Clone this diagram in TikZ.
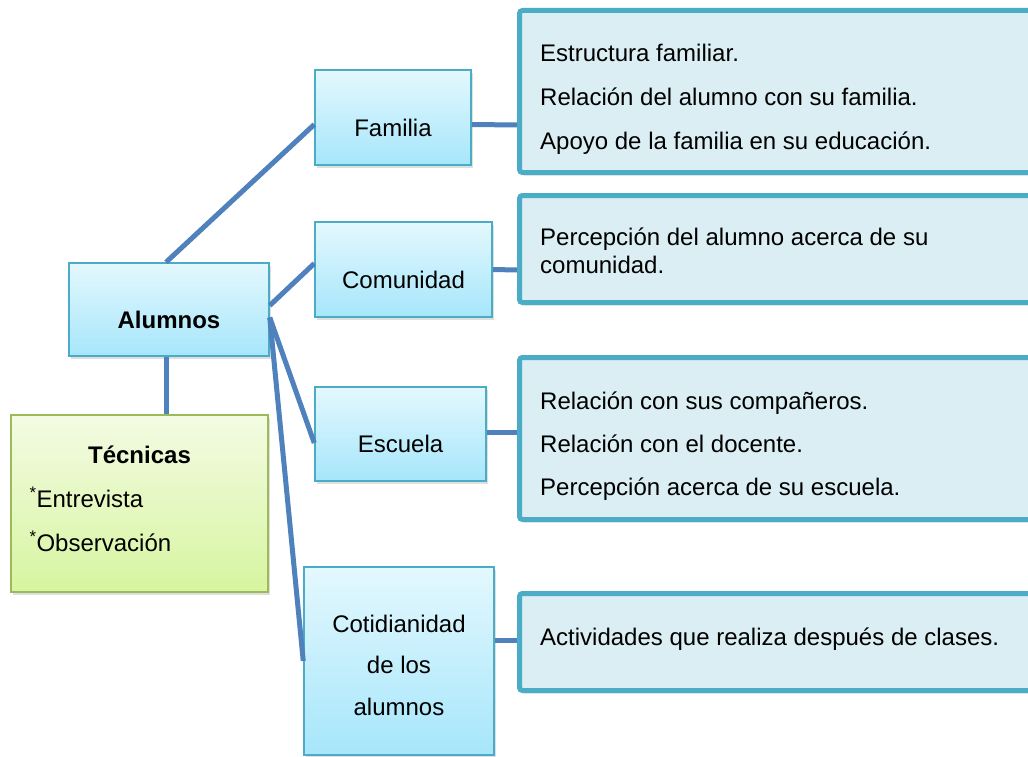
\documentclass[tikz,border=0pt]{standalone}
\usepackage{fontspec}
\setmainfont{Liberation Sans}
\usetikzlibrary{shadows}
\definecolor{cyanT}{HTML}{E4F8FE}
\definecolor{cyanB}{HTML}{A6E6FB}
\definecolor{cyanD}{HTML}{4BACC6}
\definecolor{greenT}{HTML}{F4FBE3}
\definecolor{greenB}{HTML}{D6F5A0}
\definecolor{greenD}{HTML}{9BBB59}
\definecolor{infoF}{HTML}{DAEEF3}
\definecolor{linkC}{HTML}{4F81BD}
\newcommand\lowertext[2]{\raisebox{-#1}[\height][\depth]{#2}}
\begin{document}
\begin{tikzpicture}[x=1pt,y=-1pt,
  every node/.style={font=\fontsize{24}{44}\selectfont},
  mainbox/.style={draw=cyanD, line width=1.5pt, top color=cyanT, bottom color=cyanB,
    drop shadow={shadow xshift=2pt,shadow yshift=-3pt,opacity=0.25},
    align=center, inner sep=0pt},
  greenbox/.style={draw=greenD, line width=1.5pt, top color=greenT, bottom color=greenB,
    drop shadow={shadow xshift=2pt,shadow yshift=-3pt,opacity=0.25},
    inner sep=0pt},
  infobox/.style={draw=cyanD, line width=5pt, fill=infoF, rounded corners=3pt,
    drop shadow={shadow xshift=2pt,shadow yshift=-3pt,opacity=0.2},
    minimum width=520.5pt, inner sep=0pt},
  infotext/.style={anchor=west, align=left, inner sep=0pt},
  link/.style={draw=linkC, line width=5pt}
]
\clip (0,0) rectangle (1028,757);
\fill[white] (0,0) rectangle (1028,757);

% main nodes
\node[mainbox, minimum width=200pt, minimum height=93pt] (alumnos) at (169,309.5) {\lowertext{10pt}{\textbf{Alumnos}}};
\node[greenbox, minimum width=257pt, minimum height=177pt, text width=220pt, align=left] (tecnicas) at (139.5,503.5)
  {\lowertext{-5pt}{\parbox{220pt}{\makebox[220pt]{\textbf{Técnicas}}\\\textsuperscript{*}Entrevista\\\textsuperscript{*}Observación}}};
\node[mainbox, minimum width=156pt, minimum height=95pt] (familia) at (393,117.5) {\lowertext{10pt}{Familia}};
\node[mainbox, minimum width=177pt, minimum height=95pt] (comunidad) at (403.5,269.5) {\lowertext{10pt}{Comunidad}};
\node[mainbox, minimum width=171pt, minimum height=94pt] (escuela) at (400.5,434) {\lowertext{10pt}{Escuela}};
\node[mainbox, minimum width=190pt, minimum height=188pt, font=\fontsize{24}{41.5}\selectfont] (cotid) at (399,661)
  {\lowertext{4.5pt}{\begin{tabular}{@{}c@{}}Cotidianidad\\de los\\alumnos\end{tabular}}};

% info boxes
\node[infobox, minimum height=162pt] (famInfo) at (779.75,91.5) {};
\node[infobox, minimum height=107pt] (comInfo) at (779.75,249) {};
\node[infobox, minimum height=162pt] (escInfo) at (779.75,438.5) {};
\node[infobox, minimum height=97pt] (cotInfo) at (779.75,642) {};

\node[infotext] (famText) at (540,99.5) {Estructura familiar.\\Relación del alumno con su familia.\\Apoyo de la familia en su educación.};
\node[infotext, font=\fontsize{24}{28}\selectfont] (comText) at (540,251) {Percepción del alumno acerca de su\\comunidad.};
\node[infotext, font=\fontsize{24}{43}\selectfont] (escText) at (540,446) {Relación con sus compañeros.\\Relación con el docente.\\Percepción acerca de su escuela.};
\node[infotext] (cotText) at (540,639) {Actividades que realiza después de clases.};

% connectors
\draw[link] ([xshift=-3pt]alumnos.north) -- ([yshift=-7pt]familia.west);
\draw[link] ([yshift=4pt]alumnos.east) -- ([yshift=6pt]comunidad.west);
\draw[link] ([yshift=-8pt]alumnos.east) -- ([yshift=-9pt]escuela.west);
\draw[link] ([yshift=-8pt]alumnos.east) -- (cotid.west);
\draw[link] ([xshift=-3pt]alumnos.south) -- ([xshift=26.5pt]tecnicas.north);
\draw[link] ([yshift=-7pt]familia.east) -- (famInfo.west |- 0,125);
\draw[link] ([yshift=0pt]comunidad.east) -- (comInfo.west |- 0,270);
\draw[link] ([yshift=2pt]escuela.east) -- (escInfo.west |- 0,432);
\draw[link] ([yshift=21pt]cotid.east) -- (cotInfo.west |- 0,640);
\end{tikzpicture}
\end{document}
